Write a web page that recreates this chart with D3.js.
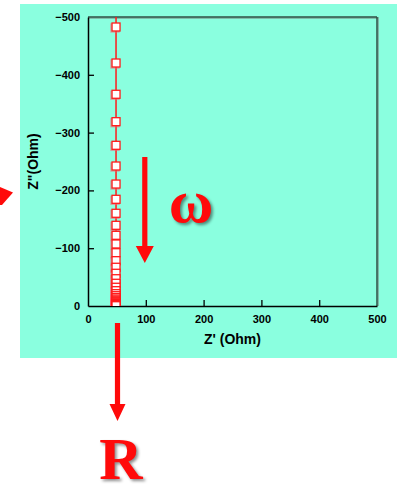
<!DOCTYPE html>
<html>
<head>
<meta charset="utf-8">
<script src="https://cdn.jsdelivr.net/npm/d3@7"></script>
<style>
  html, body { margin: 0; padding: 0; background: #ffffff; }
  svg { display: block; }
  .tick text { font-family: "Liberation Sans", Arial, sans-serif; font-weight: bold; font-size: 11px; fill: #000; }
  .title { font-family: "Liberation Sans", Arial, sans-serif; font-weight: bold; font-size: 14px; fill: #000; }
  .big { font-family: "Liberation Serif", "Times New Roman", serif; font-weight: bold; fill: #ff0a0a;
         filter: drop-shadow(2px 2px 1.5px rgba(0,0,0,0.45)); }
</style>
</head>
<body>
<svg id="chart" width="397" height="492"></svg>
<script>
// Impedance spectrum: real part Z' and imaginary part Z'' (Ohm), high Z'' = low frequency
const zReal = [48.5, 48.5, 48.5, 48.5, 48.5, 48.5, 48.5, 48.5, 48.5, 48.5, 48.5, 48.5,
               48.5, 48.5, 48.5, 48.5, 48.5, 48.5, 48.5, 48.5, 48.5, 48.5, 48.5, 48.5,
               48.5, 48.5, 48.5, 48.5, 48.5, 48.5, 48.5, 48.5, 48.5, 48.5, 48.5, 48.5,
               48.5];
const zImag = [-554, -482.7, -420.4, -366.3, -318.9, -278, -242.2, -211, -184.6, -160.4,
               -139.6, -122.3, -107.3, -92.2, -78.4, -67, -56.6, -47.2, -39.3, -32.4,
               -26.5, -21.3, -17.8, -14.5, -12, -10, -8.2, -6.7, -5.4, -4.3,
               -3.4, -2.6, -2, -1.5, -1.1, -0.8, -0.5];
const xTicks = [0, 100, 200, 300, 400, 500];
const yTicks = [0, -100, -200, -300, -400, -500];

const svg = d3.select("#chart");

// teal panel behind the plot
svg.append("rect").attr("x", 20).attr("y", 4).attr("width", 377).attr("height", 354)
   .attr("fill", "#8affdf");

const x = d3.scaleLinear().domain([0, 500]).range([88, 377]);
const y = d3.scaleLinear().domain([0, -500]).range([306, 17]);

svg.append("defs").append("clipPath").attr("id", "plotClip")
   .append("rect").attr("x", 88).attr("y", 17).attr("width", 289).attr("height", 289);

// frame: top/right edges with a soft shadow
svg.append("line").attr("x1", 88).attr("x2", 378).attr("y1", 18.2).attr("y2", 18.2)
   .attr("stroke", "#7aa89a").attr("stroke-width", 1.2);
svg.append("line").attr("x1", 378.2).attr("x2", 378.2).attr("y1", 17).attr("y2", 306)
   .attr("stroke", "#7aa89a").attr("stroke-width", 1.2);
svg.append("line").attr("x1", 88).attr("x2", 377).attr("y1", 17).attr("y2", 17)
   .attr("stroke", "#2f4f45").attr("stroke-width", 1.5);
svg.append("line").attr("x1", 377).attr("x2", 377).attr("y1", 17).attr("y2", 306)
   .attr("stroke", "#2f4f45").attr("stroke-width", 1.5);

// axes with inward ticks
const gx = svg.append("g").attr("transform", "translate(0,306)")
  .call(d3.axisBottom(x).tickValues(xTicks).tickFormat(d3.format("d"))
        .tickSizeInner(-6).tickSizeOuter(0).tickPadding(9));
const gy = svg.append("g").attr("transform", "translate(88,0)")
  .call(d3.axisLeft(y).tickValues(yTicks).tickFormat(d3.format("d"))
        .tickSizeInner(-6).tickSizeOuter(0).tickPadding(8));
[gx, gy].forEach(g => {
  g.select(".domain").attr("stroke", "#000").attr("stroke-width", 1.5);
  g.selectAll(".tick line").attr("stroke", "#000").attr("stroke-width", 1.3);
});
gx.selectAll(".tick").filter(d => d === 0 || d === 500).select("line").remove();
gy.selectAll(".tick").filter(d => d === 0 || d === -500).select("line").remove();
gy.selectAll(".tick text").text(d => d === 0 ? "0" : d3.format("d")(d));

svg.append("text").attr("class", "title").attr("x", 232.5).attr("y", 344)
   .attr("text-anchor", "middle").text("Z' (Ohm)");
svg.append("text").attr("class", "title")
   .attr("transform", "translate(38,161.5) rotate(-90)")
   .attr("text-anchor", "middle").text('Z"(Ohm)');

// data: line and square markers
const pts = zReal.map((v, i) => [v, zImag[i]]);
const plot = svg.append("g").attr("clip-path", "url(#plotClip)");
plot.append("path").datum(pts)
  .attr("d", d3.line().x(d => x(d[0])).y(d => y(d[1])))
  .attr("fill", "none").attr("stroke", "#ff1a1a").attr("stroke-width", 1.5);
const s = 8;
plot.selectAll("rect.shadow").data(pts).join("rect").attr("class", "shadow")
  .attr("x", d => x(d[0]) - s / 2 - 1).attr("y", d => y(d[1]) - s / 2 + 1)
  .attr("width", s).attr("height", s)
  .attr("fill", "none").attr("stroke", "rgba(255,90,110,0.55)").attr("stroke-width", 1.4);
plot.selectAll("rect.mk").data(pts).join("rect").attr("class", "mk")
  .attr("x", d => x(d[0]) - s / 2).attr("y", d => y(d[1]) - s / 2)
  .attr("width", s).attr("height", s)
  .attr("fill", "#ffffff").attr("stroke", "#ff1a1a").attr("stroke-width", 1.3);

// annotation arrows
const red = "#ff0a0a";
function arrowDown(cx, y0, y1, headLen, headW) {
  svg.append("rect").attr("x", cx - 2.6).attr("y", y0).attr("width", 5.2).attr("height", y1 - y0 - headLen + 1)
     .attr("fill", red);
  svg.append("path").attr("d", `M${cx - headW / 2},${y1 - headLen} L${cx + headW / 2},${y1 - headLen} L${cx},${y1} Z`)
     .attr("fill", red);
}
arrowDown(144.8, 157, 263, 17, 18);
arrowDown(117.5, 323, 421, 17, 16);
// partial arrowhead at the left edge
svg.append("path").attr("d", "M0,187 L13,192.5 L2,205 L0,205 Z").attr("fill", red);

svg.append("text").attr("class", "big").attr("x", 191).attr("y", 222)
   .attr("text-anchor", "middle").attr("font-size", 61).text("ω");
svg.append("text").attr("class", "big").attr("x", 121).attr("y", 479)
   .attr("text-anchor", "middle").attr("font-size", 60).text("R");
</script>
</body>
</html>
